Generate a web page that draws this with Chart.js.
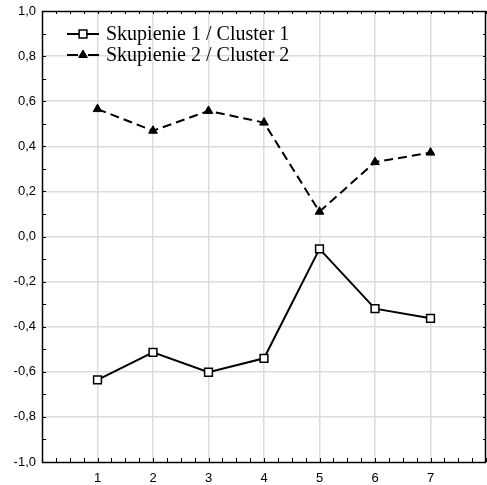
<!DOCTYPE html>
<html>
<head>
<meta charset="utf-8">
<script src="https://cdn.jsdelivr.net/npm/chart.js@4"></script>
<style>
    html, body { margin: 0; padding: 0; background: #fff; overflow: hidden; }
</style>
</head>
<body>
<canvas id="chart" width="487" height="485"></canvas>
<script>
// Data
const categories = [1, 2, 3, 4, 5, 6, 7];
const cluster1 = [-0.636, -0.514, -0.602, -0.540, -0.055, -0.320, -0.363];
const cluster2 = [0.565, 0.469, 0.557, 0.505, 0.110, 0.330, 0.372];
const seriesNames = ['Skupienie 1 / Cluster 1', 'Skupienie 2 / Cluster 2'];
const yTicks = [-1.0, -0.8, -0.6, -0.4, -0.2, 0.0, 0.2, 0.4, 0.6, 0.8, 1.0];

const fmt = v => v.toFixed(1).replace('.', ',');

// Frame, inward minor ticks and the legend
const framePlugin = {
    id: 'frame',
    afterDraw(chart) {
        const { ctx, chartArea: a, scales: { x, y } } = chart;
        ctx.save();
        ctx.strokeStyle = '#000';
        ctx.lineWidth = 1;
        ctx.beginPath();
        // x ticks every 0.25 on bottom and top
        for (let v = 0; v <= 8.001; v += 0.25) {
            const px = Math.round(x.getPixelForValue(v)) + 0.5;
            ctx.moveTo(px, a.bottom); ctx.lineTo(px, a.bottom - 4);
            ctx.moveTo(px, a.top); ctx.lineTo(px, a.top + 3);
        }
        // y ticks every 0.1 on left and right
        for (let v = -1; v <= 1.001; v += 0.1) {
            const py = Math.round(y.getPixelForValue(v)) + 0.5;
            ctx.moveTo(a.left, py); ctx.lineTo(a.left + 4, py);
            ctx.moveTo(a.right, py); ctx.lineTo(a.right - 3, py);
        }
        ctx.stroke();
        ctx.lineWidth = 1.5;
        ctx.strokeRect(Math.round(a.left) + 0.5, Math.round(a.top) + 0.5,
            Math.round(a.right - a.left) - 1, Math.round(a.bottom - a.top));

        // legend
        const rows = [34, 55];
        chart.data.datasets.forEach((ds, i) => {
            const yy = rows[i];
            ctx.strokeStyle = '#000';
            ctx.lineWidth = 2;
            // dashed sample: two dashes either side of the marker
            ctx.setLineDash(ds.borderDash ? [11, 10] : []);
            ctx.beginPath();
            ctx.moveTo(67, yy); ctx.lineTo(99, yy);
            ctx.stroke();
            ctx.setLineDash([]);
            ctx.fillStyle = ds.pointBackgroundColor;
            ctx.lineWidth = ds.pointBorderWidth;
            ctx.beginPath();
            if (ds.pointStyle === 'rect') {
                const s = Math.SQRT1_2 * ds.pointRadius;
                ctx.rect(83 - s, yy - s, 2 * s, 2 * s);
            } else {
                const r = ds.pointRadius;
                ctx.moveTo(83, yy - r);
                ctx.lineTo(83 + r * 0.87, yy + r * 0.5);
                ctx.lineTo(83 - r * 0.87, yy + r * 0.5);
                ctx.closePath();
            }
            ctx.fill();
            ctx.stroke();
            ctx.fillStyle = '#000';
            ctx.font = '20px "Liberation Serif", "Times New Roman", serif';
            ctx.textBaseline = 'middle';
            ctx.textAlign = 'left';
            ctx.fillText(ds.label, 106, yy + 1);
        });
        ctx.restore();
    }
};

const ctx = document.getElementById('chart').getContext('2d');
new Chart(ctx, {
    type: 'line',
    data: {
        datasets: [{
            label: seriesNames[0],
            data: categories.map((c, i) => ({ x: c, y: cluster1[i] })),
            borderColor: '#000',
            borderWidth: 2,
            pointStyle: 'rect',
            pointRadius: 5.5,
            pointBorderWidth: 1.5,
            pointBackgroundColor: '#fff',
            pointBorderColor: '#000',
            tension: 0
        }, {
            label: seriesNames[1],
            data: categories.map((c, i) => ({ x: c, y: cluster2[i] })),
            borderColor: '#000',
            borderWidth: 2,
            borderDash: [9, 5],
            pointStyle: 'triangle',
            pointRadius: 5,
            pointBorderWidth: 1,
            pointBackgroundColor: '#000',
            pointBorderColor: '#000',
            tension: 0
        }]
    },
    options: {
        responsive: false,
        animation: false,
        layout: { autoPadding: false, padding: { top: 11, right: 1, left: 0, bottom: 0 } },
        plugins: {
            legend: { display: false },
            tooltip: { enabled: false }
        },
        scales: {
            x: {
                type: 'linear',
                min: 0,
                max: 8,
                border: { display: false },
                grid: {
                    drawTicks: false,
                    color: c => (c.tick && c.tick.value > 0 && c.tick.value < 8) ? '#dcdcdc' : 'rgba(0,0,0,0)',
                    lineWidth: 1.5
                },
                ticks: {
                    stepSize: 1,
                    padding: 9,
                    color: '#000',
                    font: { family: '"Liberation Sans", Arial, sans-serif', size: 13 },
                    callback: v => (v > 0 && v < 8) ? String(v) : ''
                },
                afterFit: s => { s.height = 23; s.paddingRight = 0; s.paddingLeft = 0; }
            },
            y: {
                min: yTicks[0],
                max: yTicks[yTicks.length - 1],
                border: { display: false },
                grid: {
                    drawTicks: false,
                    color: c => (c.tick && Math.abs(c.tick.value) < 0.99) ? '#dcdcdc' : 'rgba(0,0,0,0)',
                    lineWidth: 1.5
                },
                afterBuildTicks: s => { s.ticks = yTicks.map(v => ({ value: v })); },
                ticks: {
                    padding: 6,
                    color: '#000',
                    font: { family: '"Liberation Sans", Arial, sans-serif', size: 13 },
                    callback: v => fmt(v)
                },
                afterFit: s => { s.width = 42; s.paddingTop = 0; s.paddingBottom = 0; }
            }
        }
    },
    plugins: [framePlugin]
});
</script>
</body>
</html>
